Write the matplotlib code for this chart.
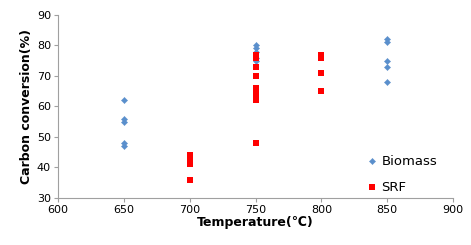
import matplotlib
matplotlib.use("Agg")
import matplotlib.pyplot as plt

plt.rcParams['font.family'] = ['DejaVu Sans', 'Noto Sans CJK SC']

# Biomass runs
bio_temp = [650, 650, 650, 650, 650,
            750, 750, 750, 750, 750,
            850, 850, 850, 850, 850]
bio_conv = [62, 56, 55, 48, 47,
            80, 79, 78, 76, 75,
            82, 81, 75, 73, 68]

# SRF runs
srf_temp = [700, 700, 700, 700, 700,
            750, 750, 750, 750, 750, 750, 750, 750, 750,
            800, 800, 800, 800]
srf_conv = [44, 43, 42, 41, 36,
            77, 76, 73, 70, 66, 64, 63, 62, 48,
            77, 76, 71, 65]

xticks = [600, 650, 700, 750, 800, 850, 900]
yticks = [30, 40, 50, 60, 70, 80, 90]

fig = plt.figure(figsize=(4.71, 2.45), dpi=100)
ax = fig.add_axes([0.123, 0.192, 0.839, 0.747])

ax.scatter(bio_temp, bio_conv, marker="D", s=10, color="#5A8FCC",
           edgecolors="#5A8FCC", linewidths=0.3, label="Biomass", zorder=3)
ax.scatter(srf_temp, srf_conv, marker="s", s=24, color="#FF0000",
           edgecolors="#FF0000", linewidths=0, label="SRF", zorder=3)

ax.set_xlim(600, 900)
ax.set_ylim(30, 90)
ax.set_xticks(xticks)
ax.set_yticks(yticks)

for side in ("top", "right"):
    ax.spines[side].set_visible(False)
for side in ("left", "bottom"):
    ax.spines[side].set_color("#A0A0A0")
    ax.spines[side].set_linewidth(0.8)
ax.tick_params(axis="both", direction="out", length=3, width=0.8,
               color="#A0A0A0", labelsize=8, pad=2)

ax.set_xlabel("Temperature(℃)", fontsize=9, fontweight="bold", labelpad=1)
ax.set_ylabel("Carbon conversion(%)", fontsize=9, fontweight="bold", labelpad=3)

leg = ax.legend(loc="lower right", bbox_to_anchor=(0.98, -0.02), frameon=False,
                fontsize=9.5, handletextpad=0.2, labelspacing=1.0,
                handlelength=1.0, borderaxespad=0.2)

fig.savefig("out.png", dpi=100)
